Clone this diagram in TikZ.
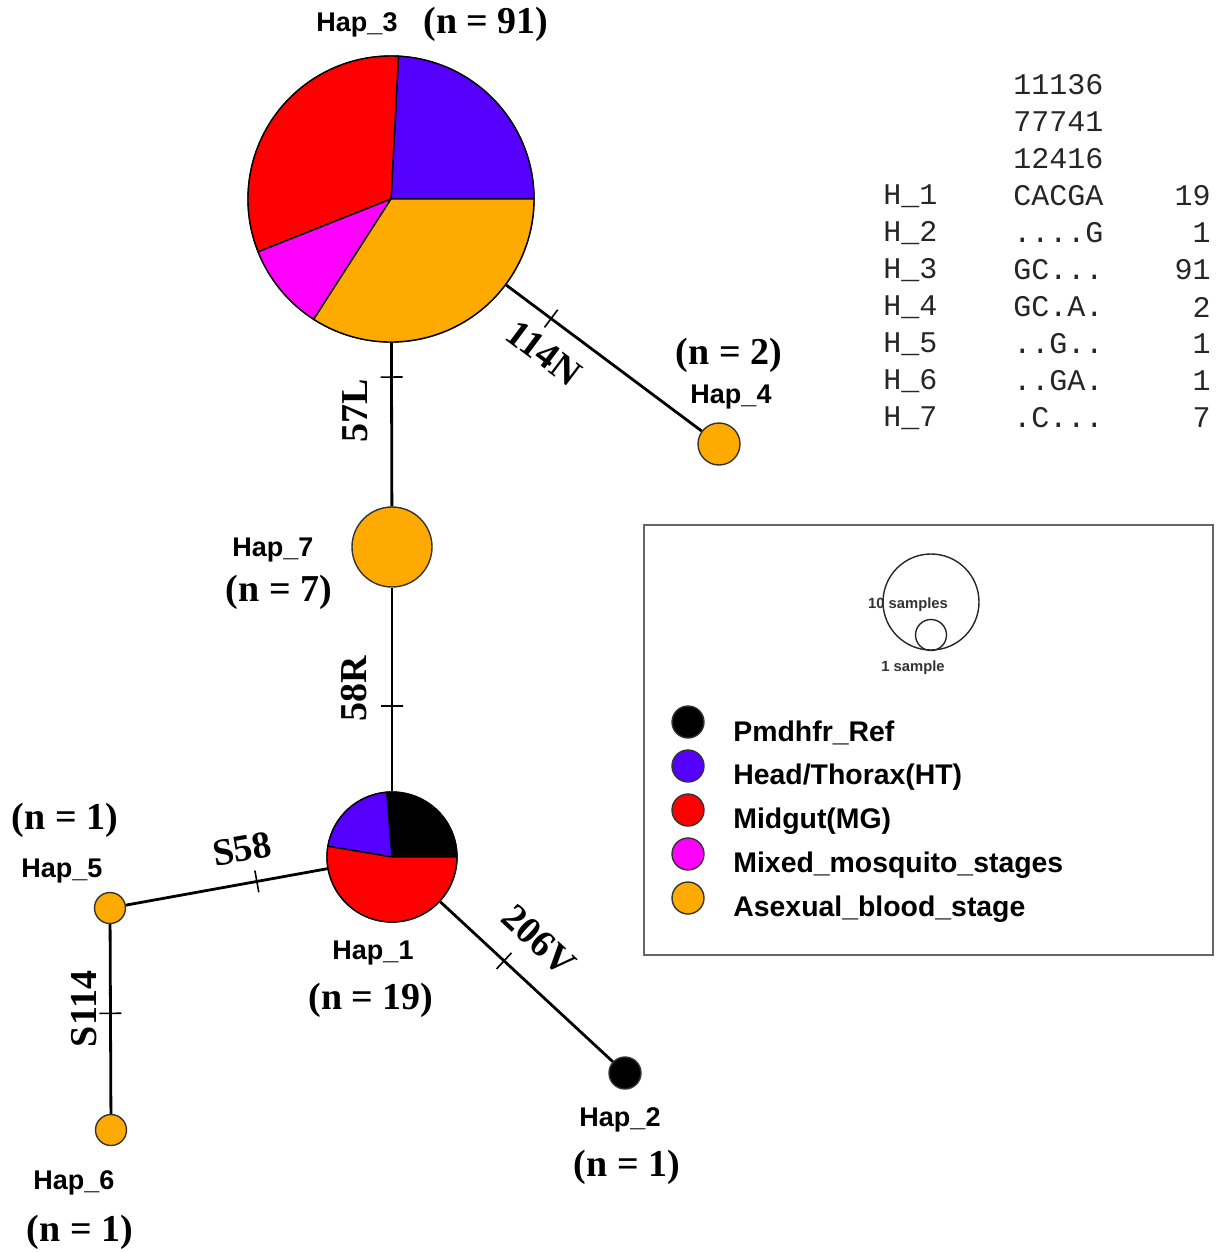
\documentclass[tikz,border=0pt]{standalone}
\usepackage{fontspec}
\setmainfont{Liberation Serif}
\newfontfamily\hapfont{Liberation Sans}
\newfontfamily\seqfont{Liberation Mono}
\usepackage{tikz}
\definecolor{htblue}{RGB}{85,0,255}
\definecolor{mgred}{RGB}{255,0,0}
\definecolor{mixpink}{RGB}{255,0,255}
\definecolor{bloodorange}{RGB}{255,170,0}
\newcommand{\pieslice}[5]{\fill[#5, draw=black, line width=0.7pt] (#1) -- ++(#2:#4) arc[start angle=#2, end angle=#3, radius=#4] -- cycle;}

\begin{document}
\begin{tikzpicture}[x=0.5pt, y=-0.5pt,
                hap/.style={circle, draw=black!80, line width=0.7pt, inner sep=0pt}, % haplotype circles
                link/.style={line width=1.4pt}, % network edges
                mutick/.style={draw, line width=0.8pt, inner sep=0pt, minimum width=0pt, minimum height=11pt}, % mutation mark
                haplab/.style={font=\hapfont\bfseries\fontsize{13.5}{15}\selectfont, inner sep=0pt},
                countlab/.style={font=\bfseries\fontsize{19}{21}\selectfont, inner sep=0pt},
                mutlab/.style={font=\bfseries\fontsize{19}{21}\selectfont, inner sep=0pt},
                seqtxt/.style={font=\seqfont\fontsize{15}{17}\selectfont, text=black!85, inner sep=0pt},
                leglab/.style={font=\hapfont\bfseries\fontsize{14.2}{16}\selectfont, anchor=west, inner sep=0pt}
                ]
\useasboundingbox (0,0) rectangle (1215,1252);

% haplotypes
\node[hap, minimum size=143pt] (h3) at (391,199) {};
\node[hap, minimum size=65pt] (h1) at (392,857) {};
\node[hap, fill=bloodorange, minimum size=40pt] (h7) at (392,547) {};
\node[hap, fill=bloodorange, minimum size=21pt] (h4) at (719,444) {};
\node[hap, fill=black, minimum size=16pt] (h2) at (625,1073) {};
\node[hap, fill=bloodorange, minimum size=15.5pt] (h5) at (110,908) {};
\node[hap, fill=bloodorange, minimum size=15.5pt] (h6) at (111,1130) {};

% pies
\pieslice{h3.center}{0}{87}{71.5pt}{htblue}
\pieslice{h3.center}{87}{201.7}{71.5pt}{mgred}
\pieslice{h3.center}{201.7}{237.3}{71.5pt}{mixpink}
\pieslice{h3.center}{237.3}{360}{71.5pt}{bloodorange}
\pieslice{h1.center}{0}{94.7}{32.5pt}{black}
\pieslice{h1.center}{94.7}{170.5}{32.5pt}{htblue}
\pieslice{h1.center}{170.5}{360}{32.5pt}{mgred}

% edges
\draw[link] (h3) -- node[mutick, pos=.21, sloped]{} (h7);
\draw[link] (h7) -- node[mutick, pos=.58, sloped]{} (h1);
\draw[link] (h3) -- node[mutick, pos=.23, sloped]{} (h4);
\draw[link] (h1) -- node[mutick, pos=.37, sloped]{} (h2);
\draw[link] (h1) -- node[mutick, pos=.35, sloped]{} (h5);
\draw[link] (h5) -- node[mutick, pos=.47, sloped]{} (h6);

% mutation labels
\node[mutlab, rotate=90] (m57) at (355,411) {57L};
\node[mutlab, rotate=90] (m58) at (354,689) {58R};
\node[mutlab, rotate=-37] (m114) at (544,353) {114N};
\node[mutlab, rotate=-43] (m206) at (539,940) {206V};
\node[mutlab, rotate=10] (ms58) at (242,849) {S58};
\node[mutlab, rotate=90] (ms114) at (84,1009) {S114};

% haplotype labels
\node[haplab] (l3) at (357,25) {Hap\_3};
\node[countlab] (n3) at (486,24) {(n = 91)};
\node[countlab] (n4) at (729,355) {(n = 2)};
\node[haplab] (l4) at (731,397) {Hap\_4};
\node[haplab] (l7) at (273,550) {Hap\_7};
\node[countlab] (n7) at (279,592) {(n = 7)};
\node[haplab] (l1) at (373,953) {Hap\_1};
\node[countlab] (n1) at (371,1000) {(n = 19)};
\node[countlab] (n5) at (65,820) {(n = 1)};
\node[haplab] (l5) at (62,871) {Hap\_5};
\node[haplab] (l6) at (74,1183) {Hap\_6};
\node[countlab] (n6) at (80,1232) {(n = 1)};
\node[haplab] (l2) at (620,1120) {Hap\_2};
\node[countlab] (n2) at (627,1167) {(n = 1)};

% sequence table
\node[seqtxt, anchor=west] (p1) at (1013,85) {11136};
\node[seqtxt, anchor=west] (p2) at (1013,122) {77741};
\node[seqtxt, anchor=west] (p3) at (1013,159) {12416};
\node[seqtxt, anchor=west] (hn1) at (883,196) {H\_1};
\node[seqtxt, anchor=west] (hs1) at (1013,196) {CACGA};
\node[seqtxt, anchor=east] (hc1) at (1211,196) {19};
\node[seqtxt, anchor=west] (hn2) at (883,233) {H\_2};
\node[seqtxt, anchor=west] (hs2) at (1013,233) {....G};
\node[seqtxt, anchor=east] (hc2) at (1211,233) {1};
\node[seqtxt, anchor=west] (hn3) at (883,270) {H\_3};
\node[seqtxt, anchor=west] (hs3) at (1013,270) {GC...};
\node[seqtxt, anchor=east] (hc3) at (1211,270) {91};
\node[seqtxt, anchor=west] (hn4) at (883,307) {H\_4};
\node[seqtxt, anchor=west] (hs4) at (1013,307) {GC.A.};
\node[seqtxt, anchor=east] (hc4) at (1211,307) {2};
\node[seqtxt, anchor=west] (hn5) at (883,344) {H\_5};
\node[seqtxt, anchor=west] (hs5) at (1013,344) {..G..};
\node[seqtxt, anchor=east] (hc5) at (1211,344) {1};
\node[seqtxt, anchor=west] (hn6) at (883,381) {H\_6};
\node[seqtxt, anchor=west] (hs6) at (1013,381) {..GA.};
\node[seqtxt, anchor=east] (hc6) at (1211,381) {1};
\node[seqtxt, anchor=west] (hn7) at (883,418) {H\_7};
\node[seqtxt, anchor=west] (hs7) at (1013,418) {.C...};
\node[seqtxt, anchor=east] (hc7) at (1211,418) {7};

% legend
\draw[black!60, line width=1pt] (644,525) rectangle (1213,955);
\node[circle, draw=black!85, line width=0.7pt, minimum size=48pt, inner sep=0pt] (big) at (931,602) {};
\node[circle, draw=black!85, line width=0.7pt, minimum size=15.5pt, inner sep=0pt] (small) at (931,635) {};
\node[font=\hapfont\bfseries\fontsize{7.4}{9}\selectfont, text=black!80, inner sep=0pt] (tenlab) at (908,605) {10 samples};
\node[font=\hapfont\bfseries\fontsize{7.4}{9}\selectfont, text=black!80, inner sep=0pt] (onelab) at (913,668) {1 sample};
\foreach \col/\txt [count=\i] in {black/{Pmdhfr\_Ref}, htblue/{Head/Thorax(HT)}, mgred/{Midgut(MG)}, mixpink/{Mixed\_mosquito\_stages}, bloodorange/{Asexual\_blood\_stage}}{
  \node[hap, fill=\col, minimum size=16pt] (k\i) at (688,678+44*\i) {};
  \node[leglab] (t\i) at (733,689+44*\i) {\txt};
}
\end{tikzpicture}
\end{document}
